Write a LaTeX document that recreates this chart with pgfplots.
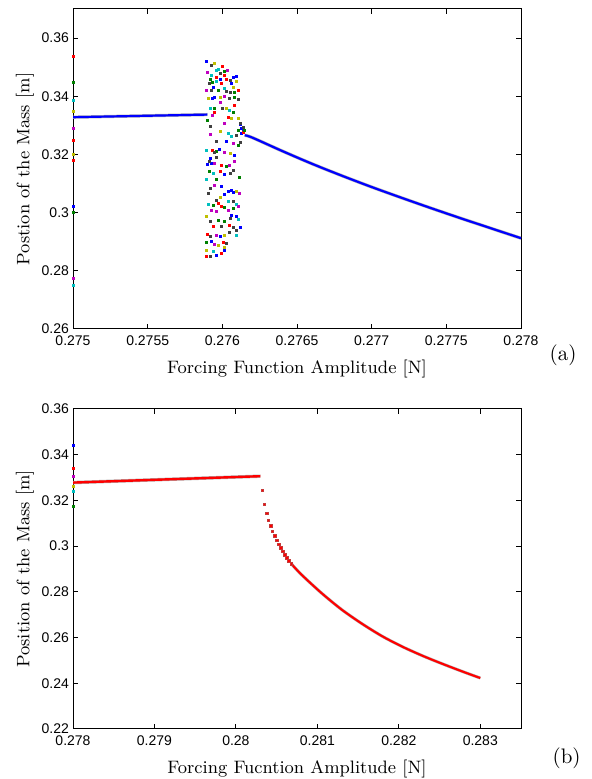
\documentclass[border=0pt]{standalone}
\usepackage{fontspec}
\newfontfamily\ticksf{Liberation Sans}
\usepackage{pgfplots}
\pgfplotsset{compat=1.18}

% matlab default colours
\definecolor{mb}{rgb}{0,0,1}
\definecolor{mg}{rgb}{0,0.5,0}
\definecolor{mr}{rgb}{1,0,0}
\definecolor{mc}{rgb}{0,0.75,0.75}
\definecolor{mm}{rgb}{0.75,0,0.75}
\definecolor{my}{rgb}{0.75,0.75,0}
\definecolor{mk}{rgb}{0.25,0.25,0.25}

\pgfplotsset{
  mlab/.style={
    scale only axis, width=224pt, height=160pt, anchor=south west,
    axis line style={line width=0.5pt},
    tick style={black, line width=0.5pt},
    tick align=inside, major tick length=2.5pt,
    scaled x ticks=false, scaled y ticks=false,
    /pgf/number format/fixed,
    /pgf/number format/precision=4,
    /pgf/number format/assume math mode=true,
    tick label style={font=\ticksf\fontsize{7}{8}\selectfont},
    yticklabel style={xshift=1.5pt},
    label style={font=\fontsize{9}{10}\selectfont},
    ylabel shift=-3pt,
  },
  dots/.style={only marks, mark=square*, mark size=0.5pt},
}

\begin{document}
\begin{tikzpicture}
\useasboundingbox (0pt,0pt) rectangle (295.5pt,389.5pt);

% ---------------- (a)
\begin{axis}[mlab, at={(36.5pt,225pt)},
  xmin=0.275, xmax=0.278, ymin=0.26, ymax=0.37,
  xtick={0.275,0.2755,0.276,0.2765,0.277,0.2775,0.278},
  ytick={0.26,0.28,0.30,0.32,0.34,0.36},
  xlabel={Forcing Function Amplitude [N]},
  ylabel={Postion of the Mass [m]},
]
% lower branch before the jump
\addplot[gray!60, line width=1.6pt] coordinates {(0.275,0.3328) (0.2755,0.3333) (0.2759,0.3337)};
\addplot[mb, line width=1.1pt] coordinates {(0.275,0.3328) (0.2755,0.3333) (0.2759,0.3337)};
% branch after the chaotic window
\addplot[gray!60, line width=1.6pt, smooth] coordinates {
 (0.27615,0.3266) (0.2762,0.3258) (0.2764,0.3212) (0.2766,0.3168) (0.2768,0.3127)
 (0.2770,0.3088) (0.2772,0.3051) (0.2774,0.3015) (0.2776,0.2980) (0.2778,0.2946) (0.2780,0.2912)};
\addplot[mb, line width=1.1pt, smooth] coordinates {
 (0.27615,0.3266) (0.2762,0.3258) (0.2764,0.3212) (0.2766,0.3168) (0.2768,0.3127)
 (0.2770,0.3088) (0.2772,0.3051) (0.2774,0.3015) (0.2776,0.2980) (0.2778,0.2946) (0.2780,0.2912)};

% transients on the left edge
\addplot[dots, mr] coordinates {(0.275,0.3537) (0.275,0.3248) (0.275,0.3181)};
\addplot[dots, mg] coordinates {(0.275,0.3446) (0.275,0.3002)};
\addplot[dots, mc] coordinates {(0.275,0.3385) (0.275,0.2751)};
\addplot[dots, my] coordinates {(0.275,0.3348) (0.275,0.3200)};
\addplot[dots, mm] coordinates {(0.275,0.3291) (0.275,0.2774)};
\addplot[dots, mb] coordinates {(0.275,0.3020)};

% chaotic window
\addplot[dots, mb] coordinates {
 (0.275895,0.35200) (0.275984,0.34582) (0.276073,0.34662) (0.276091,0.34690)
 (0.276062,0.34434) (0.275939,0.34319) (0.275950,0.33976) (0.275935,0.33942)
 (0.276024,0.32432) (0.276129,0.32718) (0.275979,0.32180) (0.276084,0.31974)
 (0.275917,0.31860) (0.275899,0.31653) (0.275928,0.31687) (0.276017,0.31310)
 (0.275995,0.30886) (0.276040,0.30738) (0.276062,0.30772) (0.276073,0.30692)
 (0.276011,0.30623) (0.276062,0.29891) (0.276091,0.29857) (0.276118,0.29479)
 (0.275988,0.29170) (0.275928,0.28999) (0.275957,0.28541) (0.276011,0.28713)
 (0.27612,0.3302) (0.27613,0.3290) (0.27614,0.3280)};
\addplot[dots, mr] coordinates {
 (0.276002,0.35028) (0.276017,0.34720) (0.275962,0.34662) (0.276029,0.34582)
 (0.275995,0.34434) (0.276107,0.34205) (0.276084,0.33690) (0.275944,0.33461)
 (0.276040,0.33290) (0.275935,0.32146) (0.275995,0.31630) (0.275984,0.31424)
 (0.275973,0.30314) (0.275995,0.30200) (0.275939,0.29513) (0.276046,0.29571)
 (0.275899,0.29250) (0.276006,0.28976) (0.275995,0.28598) (0.275895,0.28480)
 (0.27614,0.3275)};
\addplot[dots, mg] coordinates {
 (0.276011,0.34857) (0.275917,0.34582) (0.275935,0.34491) (0.275973,0.34205)
 (0.276078,0.34125) (0.276084,0.33976) (0.275950,0.33576) (0.276073,0.33461)
 (0.275899,0.33175) (0.276107,0.32832) (0.276107,0.32317) (0.275957,0.32088)
 (0.276029,0.31573) (0.275912,0.31401) (0.275962,0.31149) (0.276113,0.31195)
 (0.275939,0.30257) (0.276017,0.30166) (0.276073,0.30143) (0.275973,0.29742)
 (0.276017,0.29685) (0.275895,0.28976) (0.27615,0.3284)};
\addplot[dots, mc] coordinates {
 (0.275957,0.34891) (0.275973,0.34926) (0.275928,0.34720) (0.275957,0.34514)
 (0.276011,0.34285) (0.275917,0.33598) (0.276046,0.33518) (0.276040,0.32718)
 (0.276062,0.32603) (0.275895,0.32146) (0.275939,0.31344) (0.275895,0.31149)
 (0.276040,0.30371) (0.276091,0.30280) (0.275906,0.30280) (0.276107,0.29777)
 (0.276091,0.29227) (0.275939,0.28656)};
\addplot[dots, mm] coordinates {
 (0.275899,0.34834) (0.276033,0.34891) (0.275895,0.34205) (0.276011,0.34010)
 (0.275984,0.33804) (0.275935,0.33347) (0.276017,0.33061) (0.275917,0.32683)
 (0.276073,0.32374) (0.276017,0.32066) (0.275950,0.31687) (0.276046,0.31630)
 (0.276084,0.31744) (0.275950,0.30943) (0.276113,0.30658) (0.275928,0.30086)
 (0.276107,0.30200) (0.275962,0.30051) (0.276040,0.30086) (0.275962,0.29227)
 (0.275950,0.28907)};
\addplot[dots, my] coordinates {
 (0.275944,0.35120) (0.276091,0.34514) (0.276073,0.34319) (0.275984,0.33976)
 (0.275906,0.33919) (0.276024,0.33576) (0.276062,0.33255) (0.276107,0.33232)
 (0.275984,0.32775) (0.276051,0.32031) (0.276096,0.30715) (0.275984,0.30509)
 (0.275895,0.29857) (0.276017,0.29227) (0.275973,0.28861) (0.276017,0.28793)
 (0.275895,0.28713)};
\addplot[dots, mk] coordinates {
 (0.275928,0.35063) (0.275988,0.34777) (0.276051,0.34548) (0.275912,0.34434)
 (0.275928,0.34205) (0.276029,0.34170) (0.276051,0.34148) (0.276046,0.33942)
 (0.276107,0.33896) (0.276002,0.33598) (0.275917,0.32981) (0.276118,0.33061)
 (0.276091,0.32660) (0.276118,0.32409) (0.275962,0.32455) (0.275944,0.32066)
 (0.275912,0.31767) (0.275962,0.31882) (0.276073,0.31458) (0.276051,0.31344)
 (0.275917,0.30829) (0.275906,0.30658) (0.275962,0.30429) (0.276073,0.30371)
 (0.276051,0.29800) (0.275917,0.29685) (0.275995,0.29513) (0.276073,0.29479)
 (0.276096,0.29399) (0.276046,0.29319) (0.275917,0.29170) (0.276029,0.28941)
 (0.275917,0.28484) (0.27614,0.3292)};
\end{axis}

% ---------------- (b)
\begin{axis}[mlab, at={(36.5pt,25pt)},
  xmin=0.278, xmax=0.2835, ymin=0.22, ymax=0.36,
  xtick={0.278,0.279,0.28,0.281,0.282,0.283},
  ytick={0.22,0.24,0.26,0.28,0.30,0.32,0.34,0.36},
  xlabel={Forcing Fucntion Amplitude [N]},
  ylabel={Position of the Mass [m]},
]
\addplot[dots, mb] coordinates {(0.278,0.3439)};
\addplot[dots, mr] coordinates {(0.278,0.3341)};
\addplot[dots, mm] coordinates {(0.278,0.3304)};
\addplot[dots, my] coordinates {(0.278,0.3260)};
\addplot[dots, mc] coordinates {(0.278,0.3238)};
\addplot[dots, mg] coordinates {(0.278,0.3173)};

\addplot[gray!60, line width=1.7pt] coordinates {(0.278,0.3278) (0.2803,0.3306)};
\addplot[mr, line width=1.2pt] coordinates {(0.278,0.3278) (0.2803,0.3306)};

\addplot[gray!60, line width=1.5pt, smooth] coordinates {
 (0.28068,0.2923) (0.2808,0.2877) (0.28105,0.2795) (0.2813,0.2722)
 (0.28155,0.2660) (0.2818,0.2605) (0.28205,0.2559) (0.2823,0.2519)
 (0.28255,0.2483) (0.2828,0.2449) (0.283,0.2423)};
\addplot[mr, line width=1.05pt, smooth] coordinates {
 (0.28068,0.2923) (0.2808,0.2877) (0.28105,0.2795) (0.2813,0.2722)
 (0.28155,0.2660) (0.2818,0.2605) (0.28205,0.2559) (0.2823,0.2519)
 (0.28255,0.2483) (0.2828,0.2449) (0.283,0.2423)};

\addplot[only marks, mark=square*, mark size=0.65pt,
  mark options={fill=mr, draw=mr!55!gray}] coordinates {
 (0.280323,0.32443) (0.280352,0.31831) (0.280377,0.31437) (0.280401,0.31131)
 (0.280426,0.30881) (0.280450,0.30649) (0.280479,0.30457) (0.280503,0.30256)
 (0.280528,0.30081) (0.280552,0.29932) (0.280577,0.29774) (0.280601,0.29626)
 (0.280626,0.29494) (0.280650,0.29363) (0.280679,0.29232)};
\end{axis}

\node[font=\fontsize{10.5}{12}\selectfont] at (281.5pt,212pt) {(a)};
\node[font=\fontsize{10.5}{12}\selectfont] at (283.3pt,10.3pt) {(b)};
\end{tikzpicture}
\end{document}
